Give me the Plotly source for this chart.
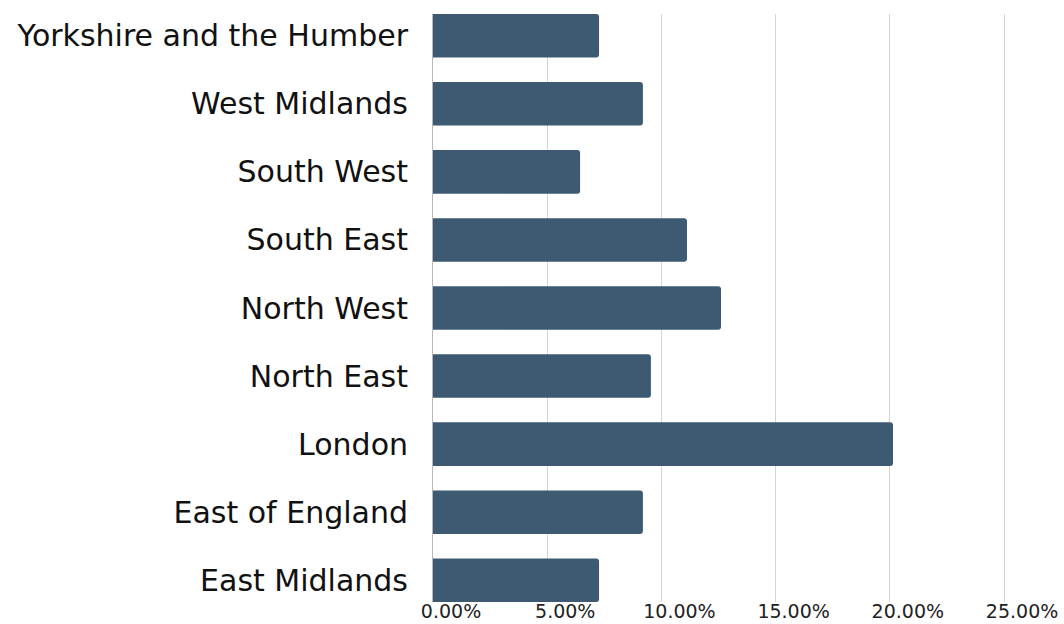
import plotly.graph_objects as go

regions = [
    "East Midlands",
    "East of England",
    "London",
    "North East",
    "North West",
    "South East",
    "South West",
    "West Midlands",
    "Yorkshire and the Humber",
]
shares = [0.0727, 0.0919, 0.2014, 0.0954, 0.1261, 0.1112, 0.0644, 0.0919, 0.0727]
tick_values = [0, 0.05, 0.10, 0.15, 0.20, 0.25]
tick_labels = ["0.00%", "5.00%", "10.00%", "15.00%", "20.00%", "25.00%"]

FONT = "DejaVu Sans"

fig = go.Figure(
    go.Bar(
        x=shares,
        y=regions,
        orientation="h",
        width=0.64,
        marker=dict(color="#3e5a72", cornerradius=3, line=dict(width=0)),
        hovertemplate="%{y}: %{x:.2%}<extra></extra>",
    )
)

fig.update_layout(
    width=1064,
    height=624,
    margin=dict(l=433, r=4, t=14, b=22),
    paper_bgcolor="white",
    plot_bgcolor="white",
    showlegend=False,
    bargap=0.36,
)

fig.update_xaxes(
    range=[0, 0.2745],
    tickvals=tick_values,
    ticktext=tick_labels,
    showgrid=True,
    gridcolor="#d4d4d4",
    gridwidth=1,
    zeroline=False,
    showline=False,
    ticks="",
    ticklabelshift=18,
    ticklabelstandoff=-4,
    ticklabeloverflow="allow",
    automargin=False,
    tickfont=dict(family=FONT, size=19, color="#222222"),
)

fig.update_yaxes(
    range=[-0.32, 8.32],
    showgrid=False,
    zeroline=False,
    showline=True,
    linecolor="#b8b8b8",
    linewidth=1,
    ticks="outside",
    ticklen=18,
    tickcolor="rgba(0,0,0,0)",
    automargin=False,
    tickfont=dict(family=FONT, size=30, color="#111111"),
)

fig.write_html("out.html")
